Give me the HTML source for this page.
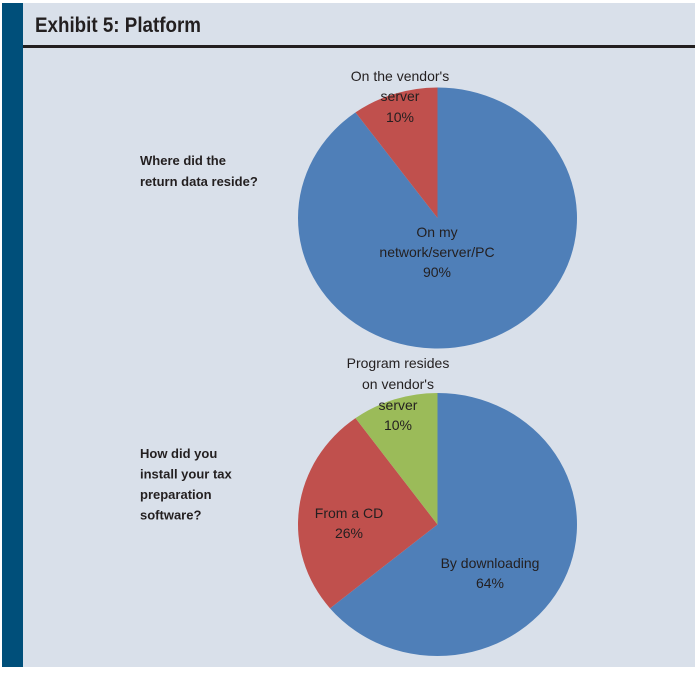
<!DOCTYPE html>
<html><head><meta charset="utf-8"><style>
body{margin:0;width:695px;height:670px;background:#fff;overflow:hidden;font-family:"Liberation Sans",sans-serif}
</style></head><body>
<svg width="695" height="670">
<rect x="2" y="3" width="693" height="664" fill="#d9e0ea"/>
<rect x="2" y="3" width="21" height="664" fill="#004f7a"/>
<text x="35" y="32" font-size="21" font-weight="bold" fill="#231f20" textLength="166" lengthAdjust="spacingAndGlyphs">Exhibit 5: Platform</text>
<rect x="23" y="45" width="672" height="3" fill="#231f20"/>
<g id="pie1"></g>
<g id="pie2"></g>
<g font-size="14" fill="#231f20" text-anchor="middle">
<text x="400" y="81"><tspan x="400">On the vendor's</tspan><tspan x="400" dy="20">server</tspan><tspan x="400" dy="21">10%</tspan></text>
<text x="437" y="237"><tspan x="437">On my</tspan><tspan x="437" dy="20">network/server/PC</tspan><tspan x="437" dy="20">90%</tspan></text>
<text x="398" y="368"><tspan x="398">Program resides</tspan><tspan x="398" dy="21">on vendor's</tspan><tspan x="398" dy="21">server</tspan><tspan x="398" dy="20">10%</tspan></text>
<text x="349" y="518"><tspan x="349">From a CD</tspan><tspan x="349" dy="20">26%</tspan></text>
<text x="490" y="568"><tspan x="490">By downloading</tspan><tspan x="490" dy="20">64%</tspan></text>
</g>
<g font-size="13" font-weight="bold" fill="#231f20">
<text x="140" y="165"><tspan x="140">Where did the</tspan><tspan x="140" dy="21">return data reside?</tspan></text>
<text x="140" y="458"><tspan x="140">How did you</tspan><tspan x="140" dy="20.5">install your tax</tspan><tspan x="140" dy="20.5">preparation</tspan><tspan x="140" dy="20.5">software?</tspan></text>
</g>
</svg>
<script>
const pie1Categories=["On my network/server/PC","On the vendor's server"];
const pie1Values=[90,10];
const pie2Categories=["By downloading","From a CD","Program resides on vendor's server"];
const pie2Values=[64,26,10];
const colors=["#4f7fb8","#c0504d","#9bbb59"];
function drawPie(id,vals,cats,cx,cy,rx,ry){
  const g=document.getElementById(id);
  const tot=vals.reduce((a,b)=>a+b,0);
  let a=0;
  vals.forEach((v,i)=>{
    const a0=a/tot*2*Math.PI; a+=v; const a1=a/tot*2*Math.PI;
    const x0=cx+rx*Math.sin(a0),y0=cy-ry*Math.cos(a0),x1=cx+rx*Math.sin(a1),y1=cy-ry*Math.cos(a1);
    const large=(a1-a0)>Math.PI?1:0;
    const p=document.createElementNS("http://www.w3.org/2000/svg","path");
    p.setAttribute("d",`M${cx},${cy}L${x0},${y0}A${rx},${ry} 0 ${large} 1 ${x1},${y1}Z`);
    p.setAttribute("fill",colors[i]);
    
    
    g.appendChild(p);
  });
}
drawPie("pie1",pie1Values,pie1Categories,437.5,218,139.5,130.5);
drawPie("pie2",pie2Values,pie2Categories,437.5,524.5,139.5,131.5);
</script>
</body></html>
